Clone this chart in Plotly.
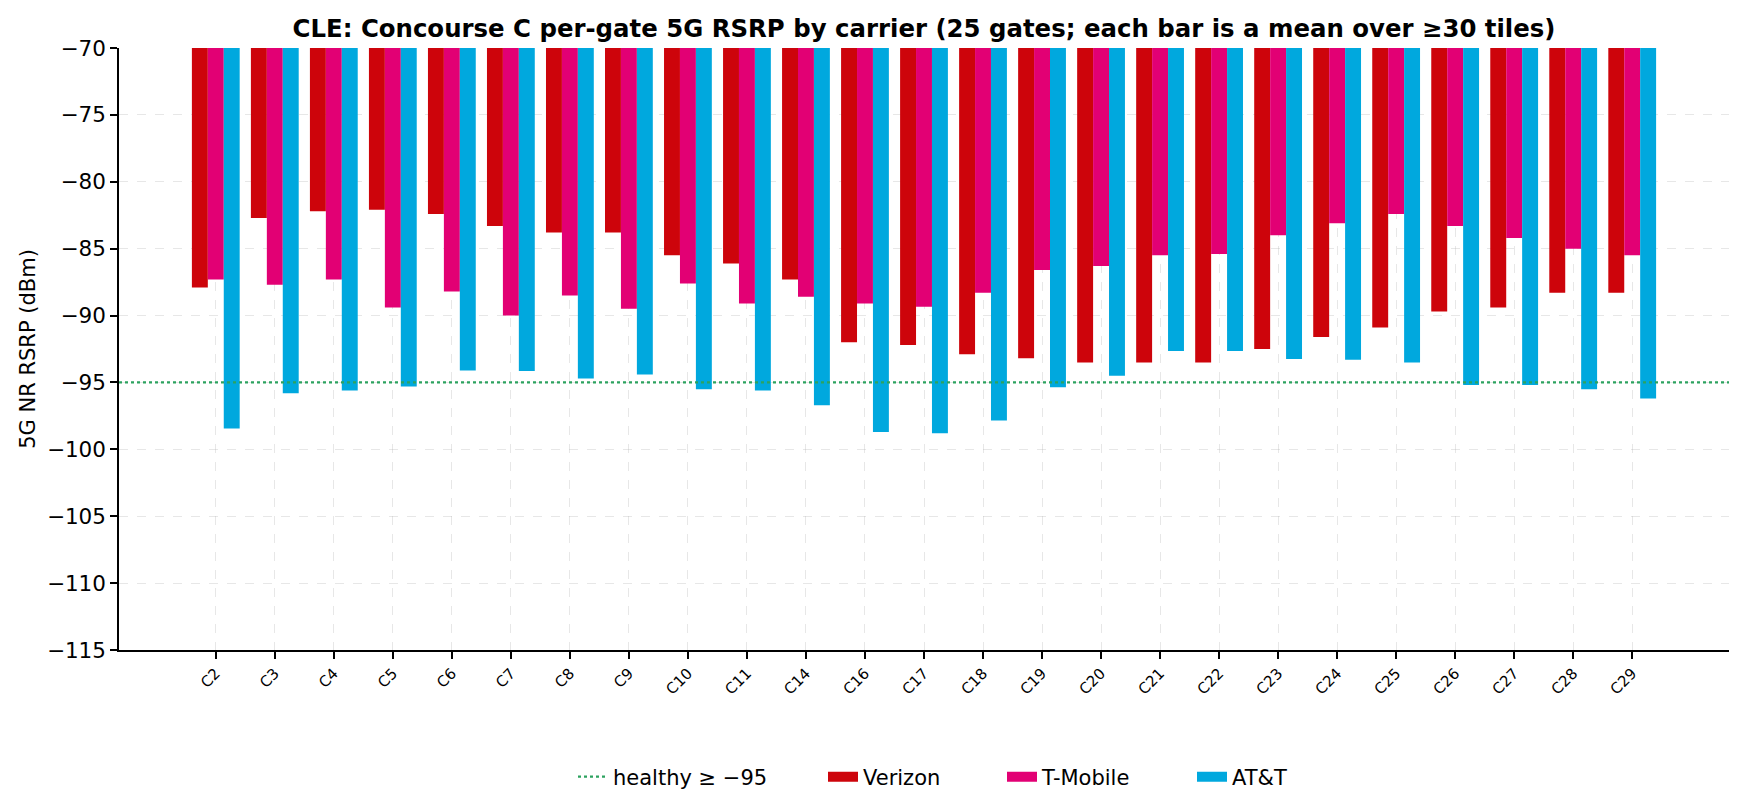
import plotly.graph_objects as go

gates = ["C2", "C3", "C4", "C5", "C6", "C7", "C8", "C9", "C10", "C11", "C14", "C16", "C17",
         "C18", "C19", "C20", "C21", "C22", "C23", "C24", "C25", "C26", "C27", "C28", "C29"]
verizon = [-87.9, -82.7, -82.2, -82.1, -82.4, -83.3, -83.8, -83.8, -85.5, -86.1, -87.3, -92.0, -92.2,
           -92.9, -93.2, -93.5, -93.5, -93.5, -92.5, -91.6, -90.9, -89.7, -89.4, -88.3, -88.3]
tmobile = [-87.3, -87.7, -87.3, -89.4, -88.2, -90.0, -88.5, -89.5, -87.6, -89.1, -88.6, -89.1, -89.35,
           -88.3, -86.6, -86.3, -85.5, -85.4, -84.0, -83.1, -82.4, -83.3, -84.2, -85.0, -85.5]
att = [-98.45, -95.8, -95.6, -95.3, -94.1, -94.15, -94.7, -94.4, -95.5, -95.6, -96.7, -98.7, -98.8,
       -97.85, -95.35, -94.5, -92.65, -92.65, -93.25, -93.3, -93.5, -95.2, -95.2, -95.5, -96.2]
carriers = ["Verizon", "T-Mobile", "AT&T"]
colors = ["#CD040B", "#E20074", "#00A8DE"]
HEALTHY = -95
HEALTHY_LABEL = "healthy \u2265 \u221295"
y_ticks = [-115, -110, -105, -100, -95, -90, -85, -80, -75, -70]
y_range = [-115, -70]

# page body has an 8px margin, so figure coords = screen coords - 8
OFF = 8
W, H = 1745, 811
L = 119 - OFF
T = 48 - OFF
PR = 1729 - OFF          # plot right edge (figure px)
PB = 650 - OFF           # plot bottom edge (figure px)
R = W - PR
B = H - PB
PW = PR - L

fig = go.Figure()
legends = ["legend2", "legend3", "legend4"]
for name, vals, col, lg in zip(carriers, [verizon, tmobile, att], colors, legends):
    fig.add_trace(go.Bar(x=gates, y=vals, name=name, showlegend=False,
                         marker=dict(color=col, line=dict(width=0))))
    # legend swatch only (no data points drawn)
    fig.add_trace(go.Scatter(x=[None], y=[None], mode="lines", name=name, legend=lg,
                             line=dict(color=col, width=16), showlegend=True))

fig.add_shape(type="line", xref="paper", x0=0, x1=1, y0=HEALTHY, y1=HEALTHY,
              line=dict(color="#2ca25f", width=2.2, dash="dot"),
              showlegend=True, name=HEALTHY_LABEL, legend="legend")

grid_col = "rgba(176,176,176,0.3)"
leg_font = dict(size=21, family="DejaVu Sans", color="black")
text_starts = [623, 873, 1052, 1242]   # screen px where each legend label starts


def leg(px):
    return dict(orientation="h", xref="paper", x=(px - OFF - 50 - L) / PW, xanchor="left",
                yref="container", y=1 - (777 - OFF) / H, yanchor="middle", font=leg_font,
                bgcolor="rgba(0,0,0,0)")


fig.update_layout(
    width=W, height=H,
    paper_bgcolor="white", plot_bgcolor="white",
    margin=dict(l=L, r=R, t=T, b=B, autoexpand=False),
    barmode="group", bargap=0.19, bargroupgap=0,
    font=dict(family="DejaVu Sans", size=21, color="black"),
    title=dict(text="<b>CLE: Concourse C per-gate 5G RSRP by carrier (25 gates; each bar is a mean over \u226530 tiles)</b>",
               x=(L + PR) / 2 / W, xanchor="center", y=1 - (28 - OFF) / H, yanchor="middle",
               font=dict(size=24.4, family="DejaVu Sans", color="black")),
    legend=leg(text_starts[0]),
    legend2=leg(text_starts[1]),
    legend3=leg(text_starts[2]),
    legend4=leg(text_starts[3]),
    xaxis=dict(range=[-1.64, 25.64], tickangle=-45, tickfont=dict(size=15, family="DejaVu Sans"),
               showline=True, linecolor="black", linewidth=1.5, mirror=False,
               ticks="outside", ticklen=7, tickwidth=1.5, tickcolor="black",
               showgrid=True, gridcolor=grid_col, griddash="dash", gridwidth=1.2,
               layer="above traces", zeroline=False),
    yaxis=dict(range=y_range, tickvals=y_ticks, ticktext=["\u2212" + str(-v) for v in y_ticks],
               title=dict(text="5G NR RSRP (dBm)", font=dict(size=21, family="DejaVu Sans"), standoff=6),
               showline=True, linecolor="black", linewidth=1.5,
               ticks="outside", ticklen=7, tickwidth=1.5, tickcolor="black",
               showgrid=True, gridcolor=grid_col, griddash="dash", gridwidth=1.2,
               layer="above traces", zeroline=False, tickfont=dict(size=21.5, family="DejaVu Sans")),
)

fig.write_html("out.html")
